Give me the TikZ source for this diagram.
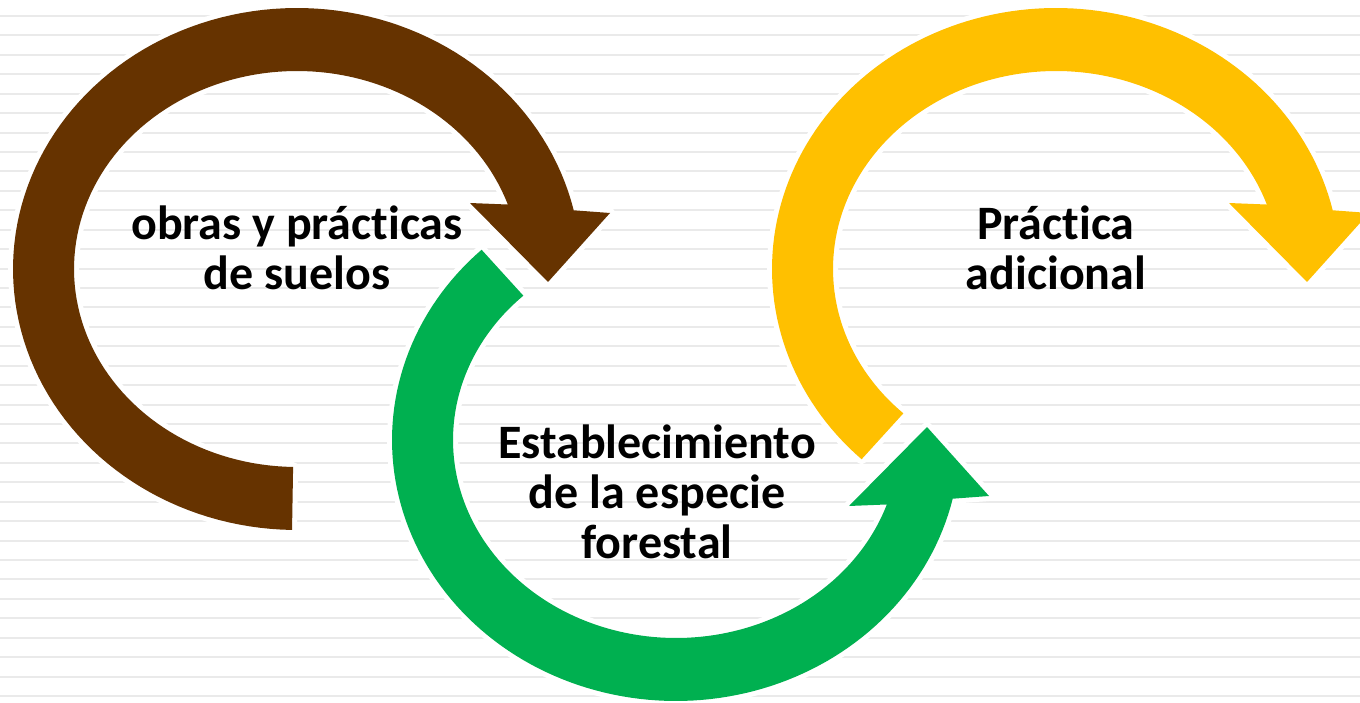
\documentclass[tikz,border=0pt]{standalone}
\usepackage{fontspec}
\setmainfont{Carlito}[Ligatures={NoCommon}]
\definecolor{brownc}{HTML}{663300}
\definecolor{greenc}{HTML}{00B050}
\definecolor{yellowc}{HTML}{FFC000}
\definecolor{linec}{HTML}{EAEAEA}
\tikzset{
  bgline/.style={draw=linec, line width=2pt},
  halo/.style={draw=white, line width=10pt, line join=round},
  lbl/.style={align=center, text=black, inner sep=0pt,
    font=\bfseries\fontsize{48}{50}\selectfont},
}
\newcommand\carrowpath[2]{%
  \path[#2] plot[domain=#1:347,samples=120] ({284*cos(\x)},{261*sin(\x)})
    -- (313,-56) -- (251,13) -- (173,-66)
    -- plot[domain=341:#1,samples=120] ({223*cos(\x)},{198*sin(\x)}) -- cycle;}
\begin{document}
\begin{tikzpicture}[x=1pt,y=-1pt]
\useasboundingbox (0,0) rectangle (1360,703);
\fill[white] (0,0) rectangle (1360,703);
\foreach \k in {-1,...,35} \draw[bgline] (0,{16+\k*19.43}) -- (1360,{16+\k*19.43});
% brown
\begin{scope}[shift={(297,269)}]
  \carrowpath{91}{halo}
  \carrowpath{91}{fill=brownc}
\end{scope}
% green
\begin{scope}[shift={(676,440)},yscale=-1]
  \carrowpath{133.2}{halo}
  \carrowpath{133.2}{fill=greenc}
\end{scope}
% yellow
\begin{scope}[shift={(1056,269)}]
  \carrowpath{133.2}{halo}
  \carrowpath{133.2}{fill=yellowc}
\end{scope}
\node[lbl] (t1) at (297,248) {obras y prácticas\\de suelos};
\node[lbl] (t2) at (657,492) {Establecimiento\\de la especie\\forestal};
\node[lbl] (t3) at (1056,248) {Práctica\\adicional};
\end{tikzpicture}
\end{document}
